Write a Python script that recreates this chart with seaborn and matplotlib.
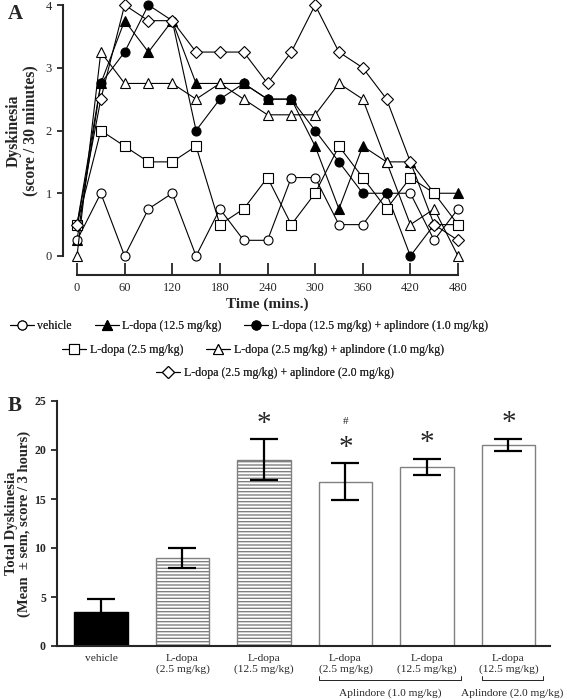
# Figura de discinesia: curso temporal (A) y total (B)
import numpy as np
import pandas as pd
import matplotlib
matplotlib.use("Agg")
import matplotlib.pyplot as plt
import matplotlib.transforms as mtransforms
import seaborn as sns

# ---- datos panel A ----
tiempo = np.arange(0, 481, 30)
vehicle = [0.25, 1.0, 0, 0.75, 1.0, 0, 0.75, 0.25, 0.25, 1.25, 1.25, 0.5, 0.5, 1.0, 1.0, 0.25, 0.75]
ldopa_125 = [0.25, 2.75, 3.75, 3.25, 3.75, 2.75, 2.75, 2.75, 2.5, 2.5, 1.75, 0.75, 1.75, 1.5, 1.5, 1.0, 1.0]
ldopa_125_apl1 = [0.5, 2.75, 3.25, 4.0, 3.75, 2.0, 2.5, 2.75, 2.5, 2.5, 2.0, 1.5, 1.0, 1.0, 0, 0.5, 0.5]
ldopa_25 = [0.5, 2.0, 1.75, 1.5, 1.5, 1.75, 0.5, 0.75, 1.25, 0.5, 1.0, 1.75, 1.25, 0.75, 1.25, 1.0, 0.5]
ldopa_25_apl1 = [0, 3.25, 2.75, 2.75, 2.75, 2.5, 2.75, 2.5, 2.25, 2.25, 2.25, 2.75, 2.5, 1.5, 0.5, 0.75, 0]
ldopa_25_apl2 = [0.5, 2.5, 4.0, 3.75, 3.75, 3.25, 3.25, 3.25, 2.75, 3.25, 4.0, 3.25, 3.0, 2.5, 1.5, 0.5, 0.25]

lbl_vehicle = "vehicle"
lbl_125 = "L-dopa (12.5 mg/kg)"
lbl_125_apl1 = "L-dopa (12.5 mg/kg) + aplindore (1.0 mg/kg)"
lbl_25 = "L-dopa (2.5 mg/kg)"
lbl_25_apl1 = "L-dopa (2.5 mg/kg) + aplindore (1.0 mg/kg)"
lbl_25_apl2 = "L-dopa (2.5 mg/kg) + aplindore (2.0 mg/kg)"

# ---- datos panel B ----
grupos = ["vehicle", "L-dopa\n(2.5 mg/kg)", "L-dopa\n(12.5 mg/kg)",
          "L-dopa\n(2.5 mg/kg)", "L-dopa\n(12.5 mg/kg)", "L-dopa\n(12.5 mg/kg)"]
media = [3.5, 9.0, 19.0, 16.75, 18.25, 20.5]
sem = [1.3, 1.0, 2.1, 1.9, 0.85, 0.65]
significativo = [False, False, True, True, True, True]
marca_hash = [False, False, False, True, False, False]
aplindore_grupos = [("Aplindore (1.0 mg/kg)", 3, 4), ("Aplindore (2.0 mg/kg)", 5, 5)]

sns.set_style("ticks")
plt.rcParams['font.family'] = ['Liberation Serif', 'DejaVu Serif']
plt.rcParams['axes.linewidth'] = 1.5
plt.rcParams['hatch.linewidth'] = 1.0

fig = plt.figure(figsize=(5.67, 6.99), dpi=100)

# ================= Panel A =================
ax1 = fig.add_axes([77/567, 1-256/699, (458-77)/567, (256-5)/699])
# orden de dibujo: rellenos debajo, abiertos encima
series = [
    (ldopa_125, lbl_125, '^', 'black', 6.5),
    (vehicle, lbl_vehicle, 'o', 'white', 6.5),
    (ldopa_125_apl1, lbl_125_apl1, 'o', 'black', 6.5),
    (ldopa_25, lbl_25, 's', 'white', 6.5),
    (ldopa_25_apl1, lbl_25_apl1, '^', 'white', 7),
    (ldopa_25_apl2, lbl_25_apl2, 'D', 'white', 6),
]
for valores, etiqueta, marcador, relleno, tam in series:
    sns.lineplot(x=tiempo, y=valores, ax=ax1, color='black', linewidth=0.8,
                 marker=marcador, markersize=tam, markerfacecolor=relleno,
                 markeredgecolor='black', markeredgewidth=0.8,
                 label=etiqueta, clip_on=False, legend=False)

ax1.set_xlim(0, 480)
ax1.set_ylim(0, 4)
ax1.set_xticks(np.arange(0, 481, 60))
ax1.set_yticks([0, 1, 2, 3, 4])
ax1.tick_params(axis='x', direction='in', length=9, width=1.3, pad=5, labelsize=9)
ax1.tick_params(axis='y', direction='out', length=4, width=1.3, pad=4, labelsize=9)
for t in ax1.get_xticklabels() + ax1.get_yticklabels():
    t.set_fontweight('bold')
sns.despine(ax=ax1, offset=dict(left=10, bottom=14), trim=True)
ax1.set_xlabel("Time (mins.)", fontsize=11, fontweight='bold', labelpad=2)
ax1.set_ylabel("Dyskinesia\n(score / 30 minutes)", fontsize=11.3, fontweight='bold',
               linespacing=1.0)
ax1.yaxis.set_label_coords((38 - 77) / 381, 0.5)
fig.text(8/567, 1-14/699, "A", fontsize=15, fontweight='bold', va='center')

# leyenda en tres filas centradas
handles, labels = ax1.get_legend_handles_labels()
por_nombre = dict(zip(labels, handles))
filas = [
    ([lbl_vehicle, lbl_125, lbl_125_apl1], 249, 326),
    ([lbl_25, lbl_25_apl1], 253, 350),
    ([lbl_25_apl2], 275, 373),
]
for nombres, cx, cy in filas:
    leg = fig.legend([por_nombre[n] for n in nombres], nombres, loc='center',
                     bbox_to_anchor=(cx/567, 1-cy/699), ncol=len(nombres),
                     frameon=False, fontsize=8.6, handlelength=2.0,
                     handletextpad=0.3, columnspacing=1.9, borderpad=0)
    fig.add_artist(leg)

# ================= Panel B =================
ax2 = fig.add_axes([57/567, 1-646/699, 493/567, 245/699])
posiciones = list(range(len(grupos)))
datos_b = pd.DataFrame({'pos': posiciones, 'media': media})
sns.barplot(data=datos_b, x='pos', y='media', ax=ax2, width=0.66,
            color='white', edgecolor='#808080', linewidth=1.0, native_scale=True)
for i, barra in enumerate(ax2.patches):
    if i == 0:
        barra.set_facecolor('black')
        barra.set_edgecolor('black')
    elif i in (1, 2):
        barra.set_facecolor('white')
        barra.set_hatch('-----')
    else:
        barra.set_facecolor('white')

ax2.errorbar(posiciones, media, yerr=sem, fmt='none', ecolor='black',
             elinewidth=1.6, capsize=10, capthick=1.6, zorder=5)

for i in posiciones:
    tope = media[i] + sem[i]
    if significativo[i]:
        ax2.text(i, tope + 1.6, "*", ha='center', va='center', fontsize=21)
    if marca_hash[i]:
        ax2.text(i, tope + 4.3, "#", ha='center', va='center', fontsize=8)

ax2.set_xlim(-0.54, 5.51)
ax2.set_ylim(0, 25)
ax2.set_yticks([0, 5, 10, 15, 20, 25])
ax2.set_xticks(posiciones)
ax2.set_xticklabels(grupos, fontsize=8.2, va='top', linespacing=1.1)
ax2.set_xlabel("")
ax2.tick_params(axis='x', length=0, pad=6)
ax2.tick_params(axis='y', direction='out', length=4, width=1.3, pad=4, labelsize=8.5)
for t in ax2.get_yticklabels():
    t.set_fontweight('bold')
sns.despine(ax=ax2)
ax2.set_ylabel("Total Dyskinesia\n(Mean  \u00b1 sem, score / 3 hours)", fontsize=10.5,
               fontweight='bold', linespacing=1.0)
ax2.yaxis.set_label_coords((31 - 57) / 493, 0.5)
fig.text(8/567, 1-406/699, "B", fontsize=15, fontweight='bold', va='center')

# llaves de aplindore bajo las etiquetas
trans = mtransforms.blended_transform_factory(ax2.transData, ax2.transAxes)
for texto, primero, ultimo in aplindore_grupos:
    x0, x1 = primero - 0.33, ultimo + 0.42
    ax2.plot([x0, x0, x1, x1], [-0.122, -0.139, -0.139, -0.122], transform=trans,
             color='black', linewidth=0.6, clip_on=False)
    ax2.text((x0 + x1) / 2, -0.192, texto, transform=trans, ha='center',
             va='center', fontsize=8.2)

fig.savefig("out.png", dpi=100)
